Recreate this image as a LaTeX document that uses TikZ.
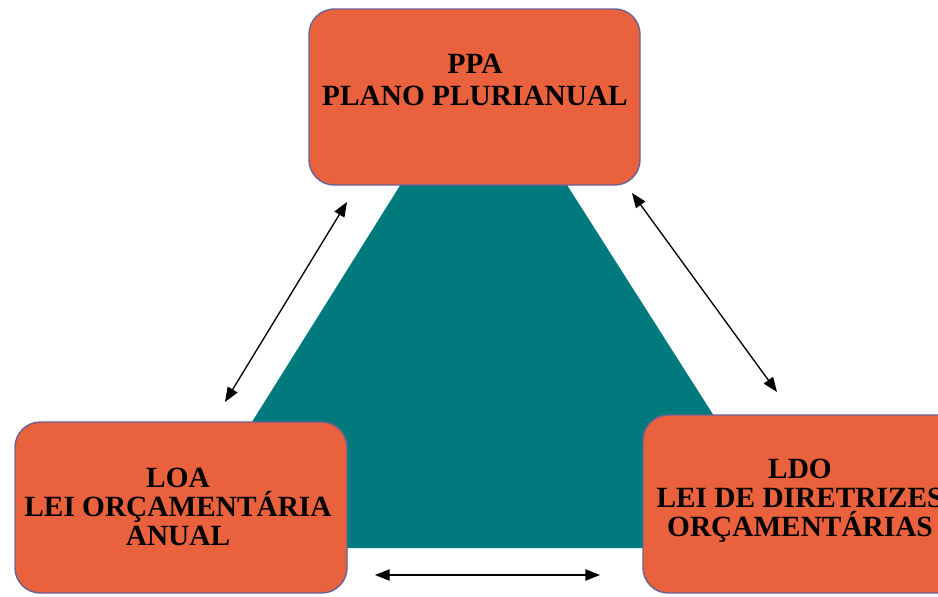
\documentclass[tikz,border=0pt]{standalone}
\usepackage{fontspec}
\setmainfont{Liberation Serif}
\usetikzlibrary{arrows.meta}
\definecolor{teal1}{HTML}{007A7D}
\definecolor{boxfill}{HTML}{E9613D}
\definecolor{boxline}{HTML}{6E6294}
\tikzset{
  box/.style={rectangle, rounded corners=19pt, fill=boxfill, draw=boxline, line width=1.1pt},
  lbl/.style={align=center, font=\bfseries\fontsize{22}{21.75}\selectfont, text=black},
  link/.style={line width=1pt, {Triangle[length=11pt,width=8.5pt]}-{Triangle[length=11pt,width=8.5pt]}}
}
\begin{document}
\begin{tikzpicture}[x=0.75pt,y=-0.75pt]
\useasboundingbox (0,0) rectangle (938,596);
\clip (0,0) rectangle (938,596);
\fill[white] (0,0) rectangle (938,596);
% teal triangle
\fill[teal1] (483,53) -- (798,548) -- (173,548) -- cycle;
% boxes
\node[box, minimum width=248.25pt, minimum height=132pt] (ppa) at (474.5,97) {};
\node[box, minimum width=249pt, minimum height=128.25pt] (loa) at (181,507.5) {};
\node[box, minimum width=249pt, minimum height=133.5pt] (ldo) at (809,504) {};
% texts
\node[lbl, font=\bfseries\fontsize{22}{23.7}\selectfont] (ppat) at (475,80) {PPA\\PLANO PLURIANUAL};
\node[lbl] (loat) at (178,507) {LOA\\LEI ORÇAMENTÁRIA\\ANUAL};
\node[lbl] (ldot) at (800,501) {LDO\\LEI DE DIRETRIZES\\ORÇAMENTÁRIAS};
% connector end points
\coordinate (a1) at (347,202);
\coordinate (a2) at (225,402);
\coordinate (b1) at (632,193);
\coordinate (b2) at (777,392);
\coordinate (c1) at (375,575);
\coordinate (c2) at (600,575);
\draw[link] (a2) -- (a1);
\draw[link] (b1) -- (b2);
\draw[link] (c1) -- (c2);
\end{tikzpicture}
\end{document}
